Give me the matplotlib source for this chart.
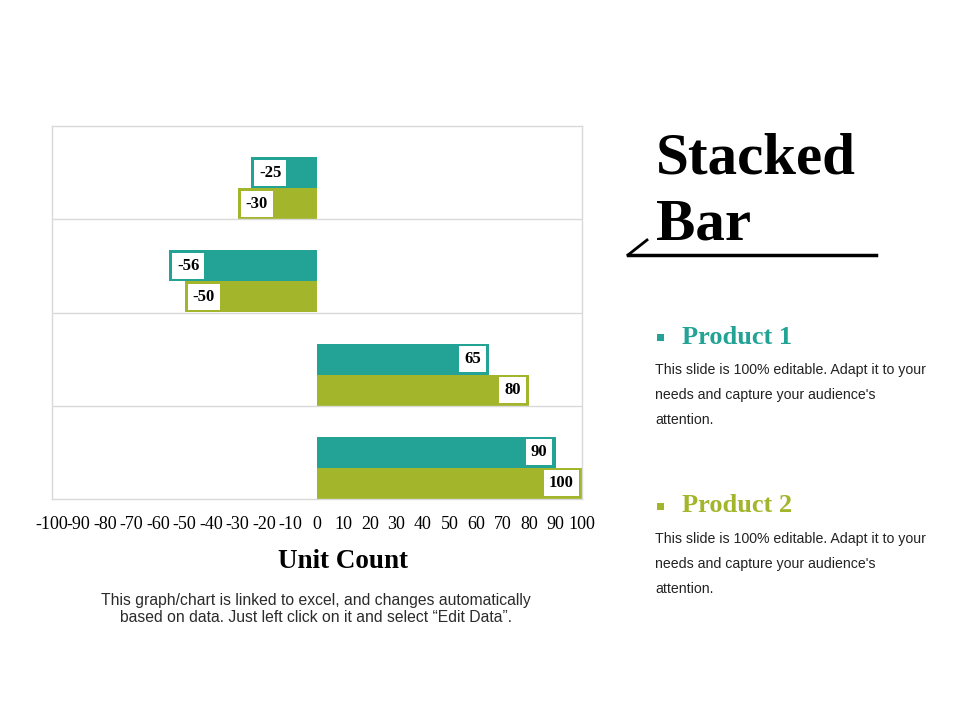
import matplotlib
matplotlib.use("Agg")
import matplotlib.pyplot as plt
from matplotlib.lines import Line2D
from matplotlib.patches import Rectangle

plt.rcParams['axes.unicode_minus'] = False

categories = ["Category 1", "Category 2", "Category 3", "Category 4"]
product1 = [-25, -56, 65, 90]
product2 = [-30, -50, 80, 100]
tick_values = list(range(-100, 101, 10))
tick_labels = [str(v) for v in tick_values]

TEAL = "#22A396"
OLIVE = "#A3B52B"
SERIF = "Liberation Serif"
SANS = "Liberation Sans"

fig = plt.figure(figsize=(9.6, 7.2), dpi=100)
ax = fig.add_axes([52/960, 1-499/720, 530/960, 373/720])

rows = list(range(len(categories)))
h = 0.333
y1 = [r + 0.5 for r in rows]
y2 = [r + 0.5 + h for r in rows]
ax.barh(y1, product1, height=h, color=TEAL, label="Product 1")
ax.barh(y2, product2, height=h, color=OLIVE, label="Product 2")

ax.set_xlim(-100, 100)
ax.set_ylim(len(categories), 0)
ax.set_xticks(tick_values)
ax.set_xticklabels(tick_labels, fontfamily=SERIF, fontsize=13)
ax.tick_params(axis='x', length=0, pad=12.5)
ax.set_yticks([])
for s in ax.spines.values():
    s.set_color("#d9d9d9")
    s.set_linewidth(1)
for r in rows[1:]:
    ax.axhline(r, color="#d9d9d9", lw=1)

def label(vals, ys):
    for v, y in zip(vals, ys):
        off = 6 if v < 0 else -6
        ax.annotate(str(v), (v, y), xytext=(off, 0), textcoords="offset points",
                    ha="left" if v < 0 else "right", va="center",
                    fontfamily=SERIF, fontsize=12, fontweight="bold", color="black",
                    bbox=dict(boxstyle="square,pad=0.3", fc="white", ec="none"))

label(product1, y1)
label(product2, y2)

fig.text(343/960, 1-562/720, "Unit Count", fontfamily=SERIF, fontsize=19.5,
         fontweight="bold", ha="center", va="center")
caption = ["This graph/chart is linked to excel, and changes automatically",
           "based on data. Just left click on it and select \u201cEdit Data\u201d."]
for i, line in enumerate(caption):
    fig.text(316/960, 1-(600 + 17*i)/720, line, fontfamily=SANS, fontsize=11.3,
             color="#2b2b2b", ha="center", va="center")

# Title
fig.text(656/960, 1-160/720, "Stacked", fontfamily=SERIF, fontsize=42.5,
         fontweight="bold", ha="left", va="center")
fig.text(656/960, 1-225/720, "Bar", fontfamily=SERIF, fontsize=42.5,
         fontweight="bold", ha="left", va="center")
fig.add_artist(Line2D([628/960, 876/960], [1-255/720, 1-255/720],
                      transform=fig.transFigure, color="black", lw=2.5))
fig.add_artist(Line2D([628/960, 647/960], [1-255/720, 1-240/720],
                      transform=fig.transFigure, color="black", lw=2))

body = ["This slide is 100% editable. Adapt it to your",
        "needs and capture your audience's",
        "attention."]
for name, col, yc in [("Product 1", TEAL, 337), ("Product 2", OLIVE, 506)]:
    fig.add_artist(Rectangle((657/960, 1-(yc+4)/720), 7/960, 7/720,
                             transform=fig.transFigure, color=col, lw=0))
    fig.text(682/960, 1-yc/720, name, fontfamily=SERIF, fontsize=19,
             fontweight="bold", color=col, ha="left", va="center")
    for i, line in enumerate(body):
        fig.text(655/960, 1-(yc + 33 + 25*i)/720, line, fontfamily=SANS,
                 fontsize=10.2, color="#222222", ha="left", va="center")

fig.savefig("out.png", dpi=100, facecolor="white")
